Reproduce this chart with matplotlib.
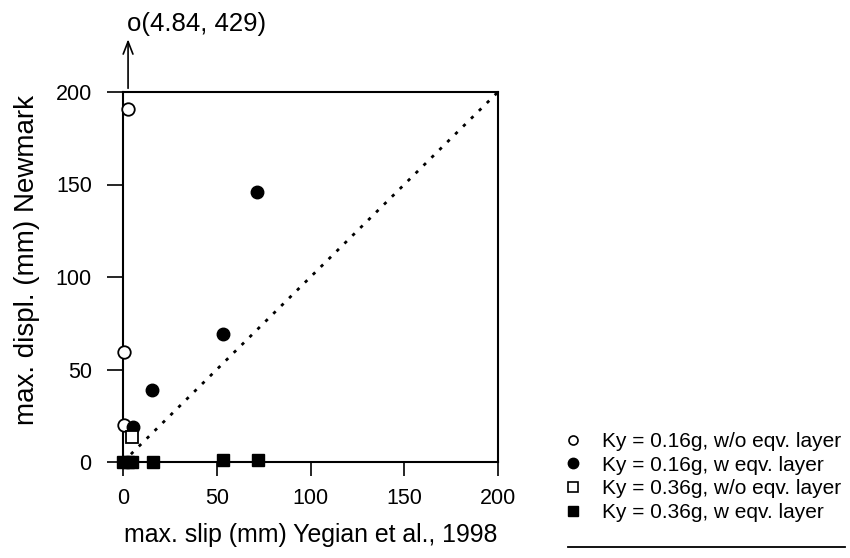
import matplotlib
matplotlib.use("Agg")
import matplotlib.pyplot as plt
from matplotlib.lines import Line2D

plt.rcParams['font.family'] = ['Liberation Sans', 'DejaVu Sans']

# Data
open_circ_x = [2.7, 0.5, 0.5]
open_circ_y = [191, 59.5, 20]
fill_circ_x = [5.5, 15.5, 53.5, 71.5]
fill_circ_y = [19, 39, 69, 146]
open_sq_x = [4.8]
open_sq_y = [13.5]
fill_sq_x = [0, 2.5, 5, 16, 53.5, 72]
fill_sq_y = [0, 0, 0, 0, 1, 1]
outlier_x, outlier_y = 4.84, 429
xticks = [0, 50, 100, 150, 200]
yticks = [0, 50, 100, 150, 200]
labels = ["Ky = 0.16g, w/o eqv. layer", "Ky = 0.16g, w eqv. layer",
          "Ky = 0.36g, w/o eqv. layer", "Ky = 0.36g, w eqv. layer"]

fig = plt.figure(figsize=(8.5, 5.58), dpi=100)
ax = fig.add_axes([123/850, 1-462/558, (498-123)/850, (462-92)/558])
ax.set_xlim(0, 200)
ax.set_ylim(0, 200)

ax.plot([0, 200], [0, 200], color='black', lw=2, linestyle=(0, (1.2, 2.8)), zorder=1)

ms = 9
ax.plot(open_circ_x, open_circ_y, 'o', mfc='white', mec='black', mew=1.3, ms=ms, clip_on=False, zorder=3)
ax.plot(fill_circ_x, fill_circ_y, 'o', mfc='black', mec='black', ms=ms, clip_on=False, zorder=3)
ax.plot(open_sq_x, open_sq_y, 's', mfc='white', mec='black', mew=1.3, ms=ms, clip_on=False, zorder=3)
ax.plot(fill_sq_x, fill_sq_y, 's', mfc='black', mec='black', ms=ms, clip_on=False, zorder=3)

for s in ax.spines.values():
    s.set_linewidth(1.5)
ax.set_xticks(xticks)
ax.set_yticks(yticks)
ax.tick_params(axis='y', direction='out', length=11.5, width=1.2, pad=11, labelsize=15.5)
ax.tick_params(axis='x', direction='out', length=10, width=1.2, pad=9, labelsize=15.5)
ax.set_xlabel("max. slip (mm) Yegian et al., 1998", fontsize=17.9, labelpad=10)
ax.set_ylabel("max. displ. (mm) Newmark", fontsize=20)
ax.yaxis.set_label_coords(-0.222, 0.546)

# Off-scale point annotation
ax.annotate('', xy=(2.7, 230), xytext=(2.7, 200.5), xycoords='data',
            arrowprops=dict(arrowstyle='->,head_length=0.9,head_width=0.35', color='black', lw=1.2),
            annotation_clip=False)
ax.text(2.0, 237, "o(%.2f, %d)" % (outlier_x, outlier_y), fontsize=18.5, ha='left', va='center',
        clip_on=False)

handles = [
    Line2D([], [], marker='o', ls='', mfc='white', mec='black', mew=1.2, ms=6.5),
    Line2D([], [], marker='o', ls='', mfc='black', mec='black', ms=7.5),
    Line2D([], [], marker='s', ls='', mfc='white', mec='black', mew=1.2, ms=6.5),
    Line2D([], [], marker='s', ls='', mfc='black', mec='black', ms=7.5),
]
leg = fig.legend(handles, labels, loc='center left', bbox_to_anchor=(554/850, 1-477/558),
                 frameon=False, fontsize=15, handlelength=0.8, handletextpad=1.0,
                 labelspacing=0.23, borderpad=0)
fig.add_artist(Line2D([568/850, 845/850], [1-547/558, 1-547/558], color='black', lw=1.3))

fig.savefig("out.png", dpi=100)
